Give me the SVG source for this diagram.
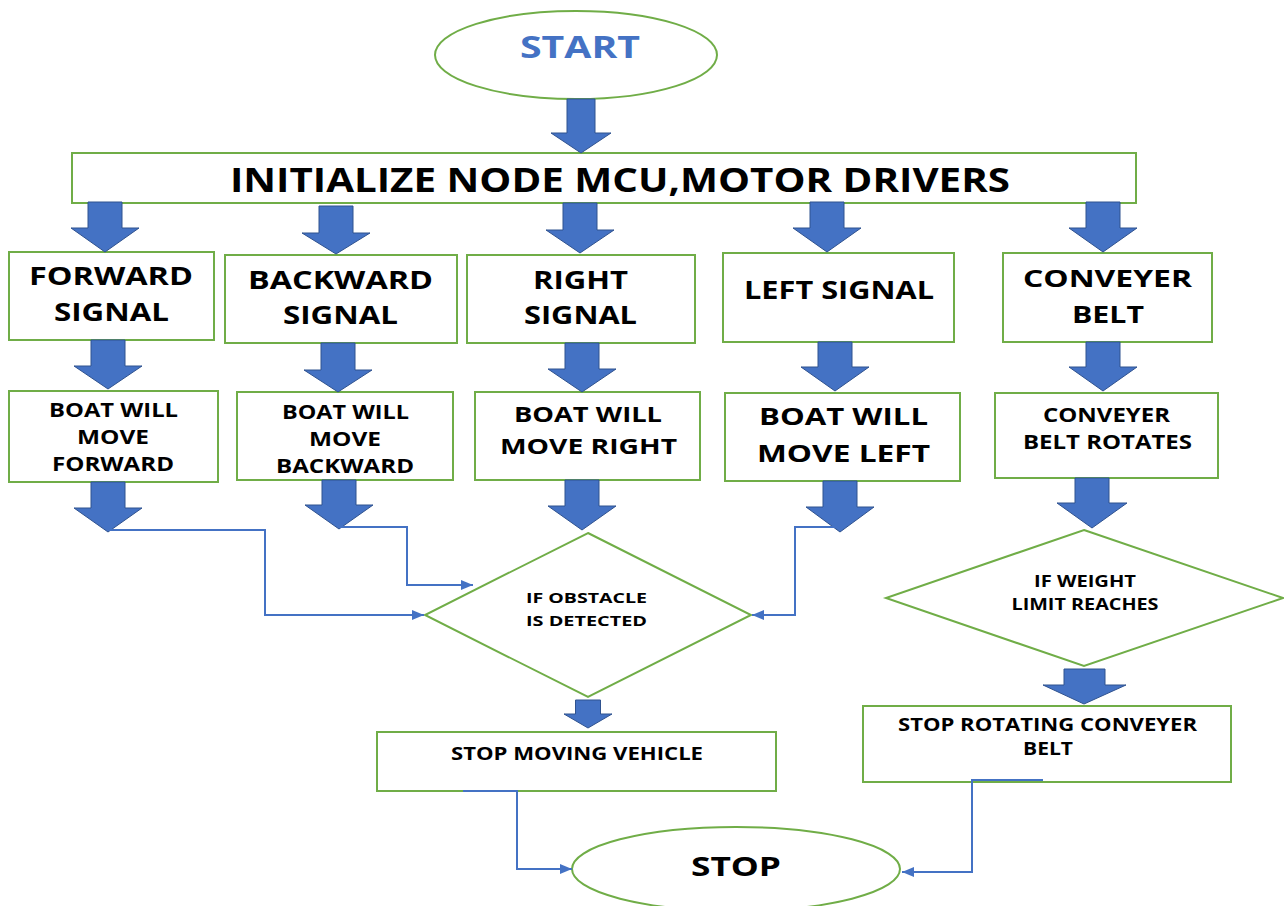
<svg xmlns="http://www.w3.org/2000/svg" width="1284" height="906" viewBox="0 0 1284 906">
<style>
.box{fill:#fff;stroke:#70AD47;stroke-width:2}
.ba{fill:#4472C4;stroke:#2F528F;stroke-width:1}
.con{fill:none;stroke:#4472C4;stroke-width:2}
text{font-family:"Open Sans","DejaVu Sans",sans-serif;font-weight:700;fill:#000;text-anchor:middle}
</style>
<defs>
<marker id="ah" markerUnits="userSpaceOnUse" markerWidth="12" markerHeight="10" refX="12" refY="5" orient="auto">
<path d="M0,0 L12,5 L0,10 z" fill="#4472C4"/>
</marker>
</defs>
<rect width="1284" height="906" fill="#fff"/>

<g id="start">
<ellipse class="box" cx="576" cy="55" rx="141" ry="44"/>
<text x="580" y="58" font-size="30" style="fill:#4472C4" textLength="120" lengthAdjust="spacingAndGlyphs">START</text>
</g>

<g id="init">
<rect class="box" x="72" y="153" width="1064" height="50"/>
<text x="620" y="192" font-size="34" textLength="780" lengthAdjust="spacingAndGlyphs">INITIALIZE NODE MCU,MOTOR DRIVERS</text>
</g>

<g id="forward-signal">
<rect class="box" x="9" y="252" width="205" height="88"/>
<text x="111" y="285" font-size="25" textLength="164" lengthAdjust="spacingAndGlyphs">FORWARD</text>
<text x="111.5" y="321" font-size="25" textLength="115" lengthAdjust="spacingAndGlyphs">SIGNAL</text>
</g>
<g id="backward-signal">
<rect class="box" x="225" y="255" width="232" height="88"/>
<text x="340.5" y="289" font-size="25" textLength="185" lengthAdjust="spacingAndGlyphs">BACKWARD</text>
<text x="340.5" y="324" font-size="25" textLength="115" lengthAdjust="spacingAndGlyphs">SIGNAL</text>
</g>
<g id="right-signal">
<rect class="box" x="467" y="255" width="228" height="88"/>
<text x="580.5" y="289" font-size="25" textLength="95" lengthAdjust="spacingAndGlyphs">RIGHT</text>
<text x="580.5" y="324" font-size="25" textLength="113" lengthAdjust="spacingAndGlyphs">SIGNAL</text>
</g>
<g id="left-signal">
<rect class="box" x="723" y="253" width="231" height="89"/>
<text x="839" y="299" font-size="25" textLength="190" lengthAdjust="spacingAndGlyphs">LEFT SIGNAL</text>
</g>
<g id="conveyer-belt">
<rect class="box" x="1003" y="253" width="209" height="89"/>
<text x="1107.5" y="287" font-size="24" textLength="169" lengthAdjust="spacingAndGlyphs">CONVEYER</text>
<text x="1108" y="323" font-size="24" textLength="72" lengthAdjust="spacingAndGlyphs">BELT</text>
</g>

<g id="move-forward">
<rect class="box" x="9" y="391" width="209" height="91"/>
<text x="113.5" y="417" font-size="19" textLength="129" lengthAdjust="spacingAndGlyphs">BOAT WILL</text>
<text x="113" y="444" font-size="19" textLength="72" lengthAdjust="spacingAndGlyphs">MOVE</text>
<text x="113" y="471" font-size="19" textLength="122" lengthAdjust="spacingAndGlyphs">FORWARD</text>
</g>
<g id="move-backward">
<rect class="box" x="237" y="392" width="216" height="88"/>
<text x="345.5" y="419" font-size="19" textLength="127" lengthAdjust="spacingAndGlyphs">BOAT WILL</text>
<text x="345" y="446" font-size="19" textLength="72" lengthAdjust="spacingAndGlyphs">MOVE</text>
<text x="345" y="473" font-size="19" textLength="138" lengthAdjust="spacingAndGlyphs">BACKWARD</text>
</g>
<g id="move-right">
<rect class="box" x="475" y="392" width="225" height="88"/>
<text x="588" y="422" font-size="21" textLength="148" lengthAdjust="spacingAndGlyphs">BOAT WILL</text>
<text x="588.5" y="454" font-size="21" textLength="177" lengthAdjust="spacingAndGlyphs">MOVE RIGHT</text>
</g>
<g id="move-left">
<rect class="box" x="725" y="393" width="235" height="88"/>
<text x="843.5" y="425" font-size="24" textLength="169" lengthAdjust="spacingAndGlyphs">BOAT WILL</text>
<text x="843.5" y="462" font-size="24" textLength="173" lengthAdjust="spacingAndGlyphs">MOVE LEFT</text>
</g>
<g id="belt-rotates">
<rect class="box" x="995" y="393" width="223" height="85"/>
<text x="1106.5" y="422" font-size="19" textLength="127" lengthAdjust="spacingAndGlyphs">CONVEYER</text>
<text x="1107.5" y="449" font-size="19" textLength="169" lengthAdjust="spacingAndGlyphs">BELT ROTATES</text>
</g>

<g id="obstacle">
<polygon class="box" points="588,533 751,615 588,697 425,615"/>
<text x="586.5" y="603" font-size="15" textLength="121" lengthAdjust="spacingAndGlyphs">IF OBSTACLE</text>
<text x="586.5" y="626" font-size="15" textLength="121" lengthAdjust="spacingAndGlyphs">IS DETECTED</text>
</g>
<g id="weight">
<polygon class="box" points="1084,530 1283,598 1084,666 886,598"/>
<text x="1085" y="587" font-size="16" textLength="102" lengthAdjust="spacingAndGlyphs">IF WEIGHT</text>
<text x="1085" y="610" font-size="16" textLength="147" lengthAdjust="spacingAndGlyphs">LIMIT REACHES</text>
</g>

<g id="stop-vehicle">
<rect class="box" x="377" y="732" width="399" height="59"/>
<text x="577" y="760" font-size="18" textLength="252" lengthAdjust="spacingAndGlyphs">STOP MOVING VEHICLE</text>
</g>
<g id="stop-belt">
<rect class="box" x="863" y="706" width="368" height="76"/>
<text x="1047.5" y="731" font-size="18" textLength="299" lengthAdjust="spacingAndGlyphs">STOP ROTATING CONVEYER</text>
<text x="1048" y="755" font-size="18" textLength="50" lengthAdjust="spacingAndGlyphs">BELT</text>
</g>

<g id="stop">
<ellipse class="box" cx="736" cy="869" rx="164" ry="42"/>
<text x="736" y="876" font-size="27" textLength="90" lengthAdjust="spacingAndGlyphs">STOP</text>
</g>

<g id="connectors">
<path class="ba" d="M567,99 H595 V133 H611 L581,153 L551,133 H567 Z"/>
<path class="ba" d="M88,202 H122 V228 H139 L105,252 L71,228 H88 Z"/>
<path class="ba" d="M319,206 H353 V233 H370 L336,254 L302,233 H319 Z"/>
<path class="ba" d="M563,203 H597 V230 H614 L580,253 L546,230 H563 Z"/>
<path class="ba" d="M810,202 H844 V228 H861 L827,252 L793,228 H810 Z"/>
<path class="ba" d="M1086,202 H1120 V228 H1137 L1103,252 L1069,228 H1086 Z"/>

<path class="ba" d="M91,340 H125 V366 H142 L108,389 L74,366 H91 Z"/>
<path class="ba" d="M321,343 H355 V370 H372 L338,392 L304,370 H321 Z"/>
<path class="ba" d="M565,343 H599 V369 H616 L582,392 L548,369 H565 Z"/>
<path class="ba" d="M818,342 H852 V367 H869 L835,391 L801,367 H818 Z"/>
<path class="ba" d="M1086,342 H1120 V367 H1137 L1103,391 L1069,367 H1086 Z"/>

<path class="ba" d="M91,482 H125 V508 H142 L108,532 L74,508 H91 Z"/>
<path class="ba" d="M322,480 H356 V505 H373 L339,529 L305,505 H322 Z"/>
<path class="ba" d="M565,480 H599 V506 H616 L582,530 L548,506 H565 Z"/>
<path class="ba" d="M823,481 H857 V507 H874 L840,532 L806,507 H823 Z"/>
<path class="ba" d="M1075,478 H1109 V503 H1127 L1092,528 L1057,503 H1075 Z"/>

<path class="ba" d="M575.5,700 H600.5 V714 H612 L588,728 L564,714 H575.5 Z"/>
<path class="ba" d="M1064,669 H1105 V685 H1126 L1084,704 L1043,685 H1064 Z"/>

<path class="con" d="M108,530 H265 V615 H424" marker-end="url(#ah)"/>
<path class="con" d="M340,527 H407 V585 H473" marker-end="url(#ah)"/>
<path class="con" d="M845,527 H795 V615 H752" marker-end="url(#ah)"/>
<path class="con" d="M463,791 H517 V869 H572" marker-end="url(#ah)"/>
<path class="con" d="M1043,780 H972 V872 H902" marker-end="url(#ah)"/>
</g>
</svg>
